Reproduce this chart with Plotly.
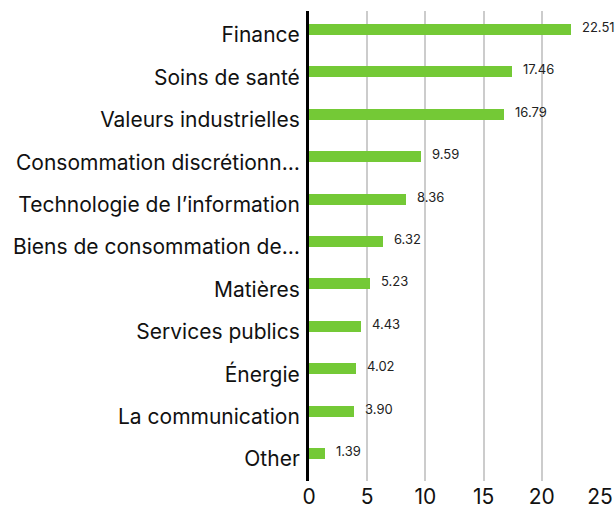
import plotly.graph_objects as go

sectors = [
    "Finance",
    "Soins de santé",
    "Valeurs industrielles",
    "Consommation discrétionn…",
    "Technologie de l’information",
    "Biens de consommation de…",
    "Matières",
    "Services publics",
    "Énergie",
    "La communication",
    "Other",
]
weights = [22.51, 17.46, 16.79, 9.59, 8.36, 6.32, 5.23, 4.43, 4.02, 3.90, 1.39]
x_ticks = [0, 5, 10, 15, 20, 25]

bar_color = "#74C936"
font_family = "Inter, Roboto, sans-serif"
bar_w = 0.26

fig = go.Figure(
    go.Bar(
        x=weights,
        y=sectors,
        orientation="h",
        marker=dict(color=bar_color, line=dict(width=0)),
        width=bar_w,
        offset=-bar_w,  # bars sit slightly above their category label
        hoverinfo="skip",
    )
)

for s, v in zip(sectors, weights):
    fig.add_annotation(
        x=v, y=s, text=f"{v:.2f}", showarrow=False,
        xanchor="left", yanchor="middle", xshift=9, yshift=8,
        font=dict(size=13, color="#222222", family=font_family),
    )

fig.update_layout(
    width=616, height=508,
    margin=dict(l=309, r=16, t=11, b=27, autoexpand=False),
    paper_bgcolor="white", plot_bgcolor="white",
    showlegend=False,
    bargap=0,
    font=dict(family=font_family, color="#111111"),
    xaxis=dict(
        range=[0, 25],
        tickvals=x_ticks,
        showgrid=True, gridcolor="#cccccc", gridwidth=2,
        zeroline=False, showline=False,
        tickfont=dict(size=21, color="#111111"),
        ticks="", ticklabelstandoff=1,
        automargin=False,
        fixedrange=True,
    ),
    yaxis=dict(
        categoryorder="array", categoryarray=sectors,
        range=[10.52, -0.567],
        showgrid=False, zeroline=False,
        showline=True, linecolor="black", linewidth=3,
        tickfont=dict(size=21, color="#111111"),
        ticks="", ticklabelstandoff=2,
        automargin=False,
        fixedrange=True,
    ),
)

fig.write_html("out.html")
